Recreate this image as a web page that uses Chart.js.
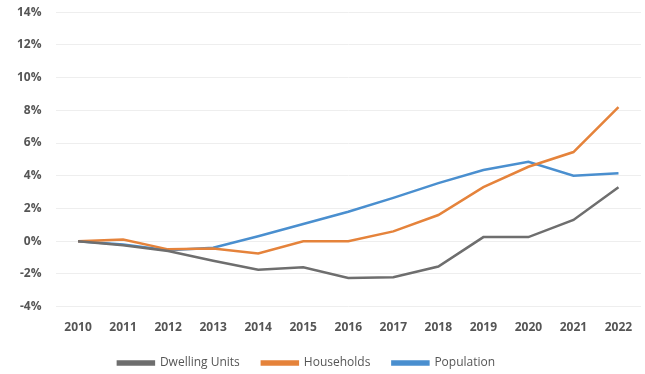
<!DOCTYPE html>
<html>
<head>
<meta charset="utf-8">
<script src="https://cdn.jsdelivr.net/npm/chart.js@4"></script>
<style>
  html, body { margin: 0; padding: 0; background: #fff; }
  #wrap { width: 645px; height: 374px; }
</style>
</head>
<body>
<div id="wrap"><canvas id="chart"></canvas></div>
<script>
// years on the x axis
const years = ['2010','2011','2012','2013','2014','2015','2016','2017','2018','2019','2020','2021','2022'];

// % change since 2010
const dwellingUnits = [0, -0.25, -0.6, -1.2, -1.75, -1.6, -2.25, -2.2, -1.55, 0.25, 0.25, 1.3, 3.3];
const households   = [0, 0.1, -0.5, -0.45, -0.75, 0, 0, 0.6, 1.6, 3.3, 4.55, 5.45, 8.2];
const population   = [0, -0.2, -0.55, -0.4, 0.3, 1.05, 1.8, 2.65, 3.55, 4.35, 4.85, 4.0, 4.15];

const yMin = -4, yMax = 14, yStep = 2;

const font = { family: "'Open Sans', 'Liberation Sans', sans-serif", size: 12, weight: 'bold' };

function serie(label, data, color) {
  return {
    label: label,
    data: data,
    borderColor: color,
    backgroundColor: color,
    borderWidth: 2.5,
    pointRadius: 0,
    tension: 0,
    fill: false
  };
}

// the legend in the picture sits a bit left of centre and close under the years
const shiftLegend = {
  id: 'shiftLegend',
  afterLayout(chart) {
    const lg = chart.legend;
    lg.left -= 20;
    lg.right -= 20;
    lg.top -= 6;
    lg.bottom -= 6;
  }
};

new Chart(document.getElementById('chart'), {
  type: 'line',
  data: {
    labels: years,
    datasets: [
      serie('Dwelling Units', dwellingUnits, '#6e6e6e'),
      serie('Households', households, '#e5833b'),
      serie('Population', population, '#4a8fcf')
    ]
  },
  plugins: [shiftLegend],
  options: {
    responsive: true,
    maintainAspectRatio: false,
    animation: false,
    layout: { padding: { top: 0, right: 4, left: 12, bottom: -11 } },
    plugins: {
      tooltip: { enabled: false },
      legend: {
        position: 'bottom',
        labels: {
          color: '#555',
          font: { family: font.family, size: 12 },
          boxWidth: 36,
          boxHeight: 3,
          padding: 22
        }
      }
    },
    scales: {
      x: {
        offset: true,
        grid: { display: false },
        border: { display: false },
        ticks: { color: '#555', font: font, maxRotation: 0, padding: 6 }
      },
      y: {
        min: yMin,
        max: yMax,
        grid: { color: '#eeeeee', lineWidth: 1, drawTicks: true, tickLength: 9, tickColor: 'rgba(0,0,0,0)' },
        border: { display: false },
        ticks: {
          stepSize: yStep,
          color: '#555',
          font: font,
          padding: 5,
          callback: v => v + '%'
        }
      }
    }
  }
});
</script>
</body>
</html>
